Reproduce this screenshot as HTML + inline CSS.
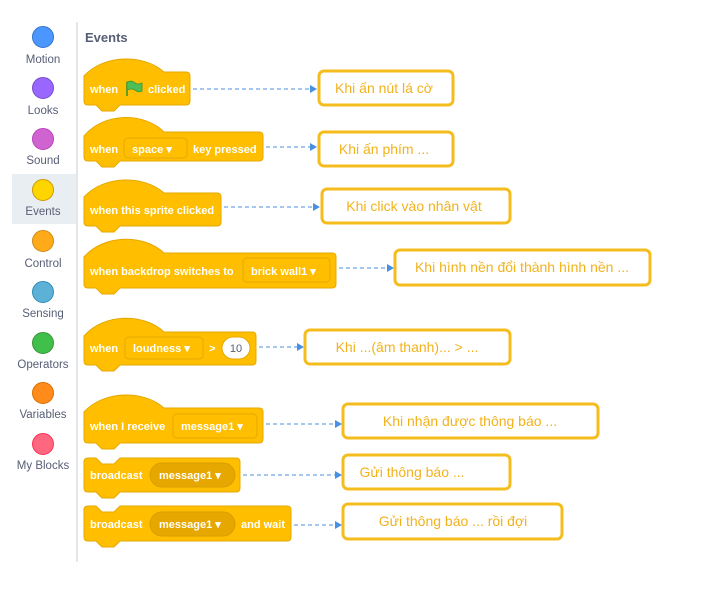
<!DOCTYPE html>
<html><head><meta charset="utf-8"><style>
html,body{margin:0;padding:0;background:#fff;}
svg{display:block;}
.bt{font-family:"Liberation Sans",sans-serif;font-size:11px;font-weight:bold;fill:#fff;}
.lb{font-family:"Liberation Sans",sans-serif;font-size:11.5px;fill:#575e75;text-anchor:middle;}
.bx{font-family:"Liberation Sans","DejaVu Sans",sans-serif;font-size:14px;fill:#f2b21c;text-anchor:middle;}
.blk{fill:#FFBF00;stroke:#E6A800;stroke-width:1;}
.dd{fill:#FFBF00;stroke:#E6A800;stroke-width:1;}
.pill{fill:#E6A800;stroke:#D99E00;stroke-width:1;}
.box{fill:#fff;stroke:#F5BC1E;stroke-width:3;}
.ar{stroke:#4A90E2;stroke-width:1;stroke-dasharray:4 3;fill:none;}
.ah{fill:#4A90E2;}
</style></head><body>
<svg width="717" height="592" viewBox="0 0 717 592" xmlns="http://www.w3.org/2000/svg">
<rect x="0" y="0" width="717" height="592" fill="#fff"/>
<!-- sidebar -->
<rect x="12" y="174" width="64" height="50" fill="#e9eef2"/>
<line x1="77" y1="22" x2="77" y2="562" stroke="#e3e6ea" stroke-width="2"/>
<circle cx="43" cy="37" r="10.5" fill="#4C97FF" stroke="#3373CC"/><text class="lb" x="43" y="63">Motion</text>
<circle cx="43" cy="88" r="10.5" fill="#9966FF" stroke="#774DCB"/><text class="lb" x="43" y="114">Looks</text>
<circle cx="43" cy="139" r="10.5" fill="#CF63CF" stroke="#BD42BD"/><text class="lb" x="43" y="164">Sound</text>
<circle cx="43" cy="190" r="10.5" fill="#FFD500" stroke="#CC9900"/><text class="lb" x="43" y="215">Events</text>
<circle cx="43" cy="241" r="10.5" fill="#FFAB19" stroke="#CF8B17"/><text class="lb" x="43" y="267">Control</text>
<circle cx="43" cy="292" r="10.5" fill="#5CB1D6" stroke="#2E8EB8"/><text class="lb" x="43" y="317">Sensing</text>
<circle cx="43" cy="343" r="10.5" fill="#40BF4A" stroke="#389438"/><text class="lb" x="43" y="368">Operators</text>
<circle cx="43" cy="393" r="10.5" fill="#FF8C1A" stroke="#DB6E00"/><text class="lb" x="43" y="418">Variables</text>
<circle cx="43" cy="444" r="10.5" fill="#FF6680" stroke="#FF3355"/><text class="lb" x="43" y="469">My Blocks</text>
<text x="85" y="42" font-family="Liberation Sans,sans-serif" font-size="13" font-weight="bold" fill="#575e75">Events</text>

<!-- B1 -->
<path class="blk" d="M84 76 C104 54 144 54 164 72 L186 72 Q190 72 190 76 L190 101 Q190 105 186 105 L120 105 L114 111 L102 111 L96 105 L88 105 Q84 105 84 101 Z"/>
<text class="bt" x="90" y="93">when</text>
<line x1="127" y1="82" x2="127" y2="96" stroke="#2f8f2f" stroke-width="1.5"/>
<path d="M127 82 Q132 80 135 83 Q138 85 142 83 L142 91 Q138 93 135 90 Q132 88 127 90 Z" fill="#4CBF56" stroke="#389438" stroke-width="0.8"/>
<text class="bt" x="148" y="93">clicked</text>

<!-- B2 -->
<path class="blk" d="M84 136 C104 112 144 112 164 132 L259 132 Q263 132 263 136 L263 157 Q263 161 259 161 L120 161 L114 167 L102 167 L96 161 L88 161 Q84 161 84 157 Z"/>
<text class="bt" x="90" y="153">when</text>
<rect class="dd" x="124" y="138" width="63" height="20" rx="4"/>
<text class="bt" x="132" y="153">space ▾</text>
<text class="bt" x="193" y="153">key pressed</text>

<!-- B3 -->
<path class="blk" d="M84 197 C104 175 144 175 164 193 L217 193 Q221 193 221 197 L221 222 Q221 226 217 226 L120 226 L114 232 L102 232 L96 226 L88 226 Q84 226 84 222 Z"/>
<text class="bt" x="90" y="214">when this sprite clicked</text>

<!-- B4 -->
<path class="blk" d="M84 257 C104 234 144 234 164 253 L332 253 Q336 253 336 257 L336 284 Q336 288 332 288 L120 288 L114 294 L102 294 L96 288 L88 288 Q84 288 84 284 Z"/>
<text class="bt" x="90" y="275">when backdrop switches to</text>
<rect class="dd" x="243" y="258" width="87" height="24" rx="4"/>
<text class="bt" x="251" y="275">brick wall1 ▾</text>

<!-- B5 -->
<path class="blk" d="M84 336 C104 313 144 313 164 332 L252 332 Q256 332 256 336 L256 361 Q256 365 252 365 L120 365 L114 371 L102 371 L96 365 L88 365 Q84 365 84 361 Z"/>
<text class="bt" x="90" y="352">when</text>
<rect class="dd" x="125" y="337" width="78" height="22" rx="4"/>
<text class="bt" x="133" y="352">loudness ▾</text>
<text class="bt" x="209" y="352">&gt;</text>
<rect x="222" y="337" width="28" height="22" rx="11" fill="#fff" stroke="#E6A800"/>
<text x="236" y="352" font-family="Liberation Sans,sans-serif" font-size="11" fill="#575e75" text-anchor="middle">10</text>

<!-- B6 -->
<path class="blk" d="M84 412 C104 390 144 390 164 408 L259 408 Q263 408 263 412 L263 439 Q263 443 259 443 L120 443 L114 449 L102 449 L96 443 L88 443 Q84 443 84 439 Z"/>
<text class="bt" x="90" y="430">when I receive</text>
<rect class="dd" x="173" y="414" width="84" height="24" rx="4"/>
<text class="bt" x="181" y="430">message1 ▾</text>

<!-- B7 -->
<path class="blk" d="M84 462 Q84 458 88 458 L96 458 L102 464 L114 464 L120 458 L236 458 Q240 458 240 462 L240 488 Q240 492 236 492 L120 492 L114 498 L102 498 L96 492 L88 492 Q84 492 84 488 Z"/>
<text class="bt" x="90" y="479">broadcast</text>
<rect class="pill" x="150" y="463" width="85" height="24" rx="12"/>
<text class="bt" x="159" y="479">message1 ▾</text>

<!-- B8 -->
<path class="blk" d="M84 510 Q84 506 88 506 L96 506 L102 512 L114 512 L120 506 L287 506 Q291 506 291 510 L291 537 Q291 541 287 541 L120 541 L114 547 L102 547 L96 541 L88 541 Q84 541 84 537 Z"/>
<text class="bt" x="90" y="528">broadcast</text>
<rect class="pill" x="150" y="512" width="85" height="24" rx="12"/>
<text class="bt" x="159" y="528">message1 ▾</text>
<text class="bt" x="241" y="528">and wait</text>

<!-- arrows -->
<line class="ar" x1="193" y1="89" x2="311" y2="89"/><path class="ah" d="M310 85 L317 89 L310 93 Z"/>
<line class="ar" x1="266" y1="147" x2="311" y2="147"/><path class="ah" d="M310 143 L317 147 L310 151 Z"/>
<line class="ar" x1="224" y1="207" x2="314" y2="207"/><path class="ah" d="M313 203 L320 207 L313 211 Z"/>
<line class="ar" x1="339" y1="268" x2="388" y2="268"/><path class="ah" d="M387 264 L394 268 L387 272 Z"/>
<line class="ar" x1="259" y1="347" x2="298" y2="347"/><path class="ah" d="M297 343 L304 347 L297 351 Z"/>
<line class="ar" x1="266" y1="424" x2="336" y2="424"/><path class="ah" d="M335 420 L342 424 L335 428 Z"/>
<line class="ar" x1="243" y1="475" x2="336" y2="475"/><path class="ah" d="M335 471 L342 475 L335 479 Z"/>
<line class="ar" x1="294" y1="525" x2="336" y2="525"/><path class="ah" d="M335 521 L342 525 L335 529 Z"/>

<!-- boxes -->
<rect class="box" x="319" y="71" width="134" height="34" rx="5"/><text class="bx" x="384" y="93">Khi ấn nút lá cờ</text>
<rect class="box" x="319" y="132" width="134" height="34" rx="5"/><text class="bx" x="384" y="154">Khi ấn phím ...</text>
<rect class="box" x="322" y="189" width="188" height="34" rx="5"/><text class="bx" x="414" y="211">Khi click vào nhân vật</text>
<rect class="box" x="395" y="250" width="255" height="35" rx="5"/><text class="bx" x="522" y="272">Khi hình nền đổi thành hình nền ...</text>
<rect class="box" x="305" y="330" width="205" height="34" rx="5"/><text class="bx" x="407" y="352">Khi ...(âm thanh)... &gt; ...</text>
<rect class="box" x="343" y="404" width="255" height="34" rx="5"/><text class="bx" x="470" y="426">Khi nhận được thông báo ...</text>
<rect class="box" x="343" y="455" width="167" height="34" rx="5"/><text class="bx" x="412" y="477">Gửi thông báo ...</text>
<rect class="box" x="343" y="504" width="219" height="35" rx="5"/><text class="bx" x="453" y="526">Gửi thông báo ... rồi đợi</text>
</svg>
</body></html>
